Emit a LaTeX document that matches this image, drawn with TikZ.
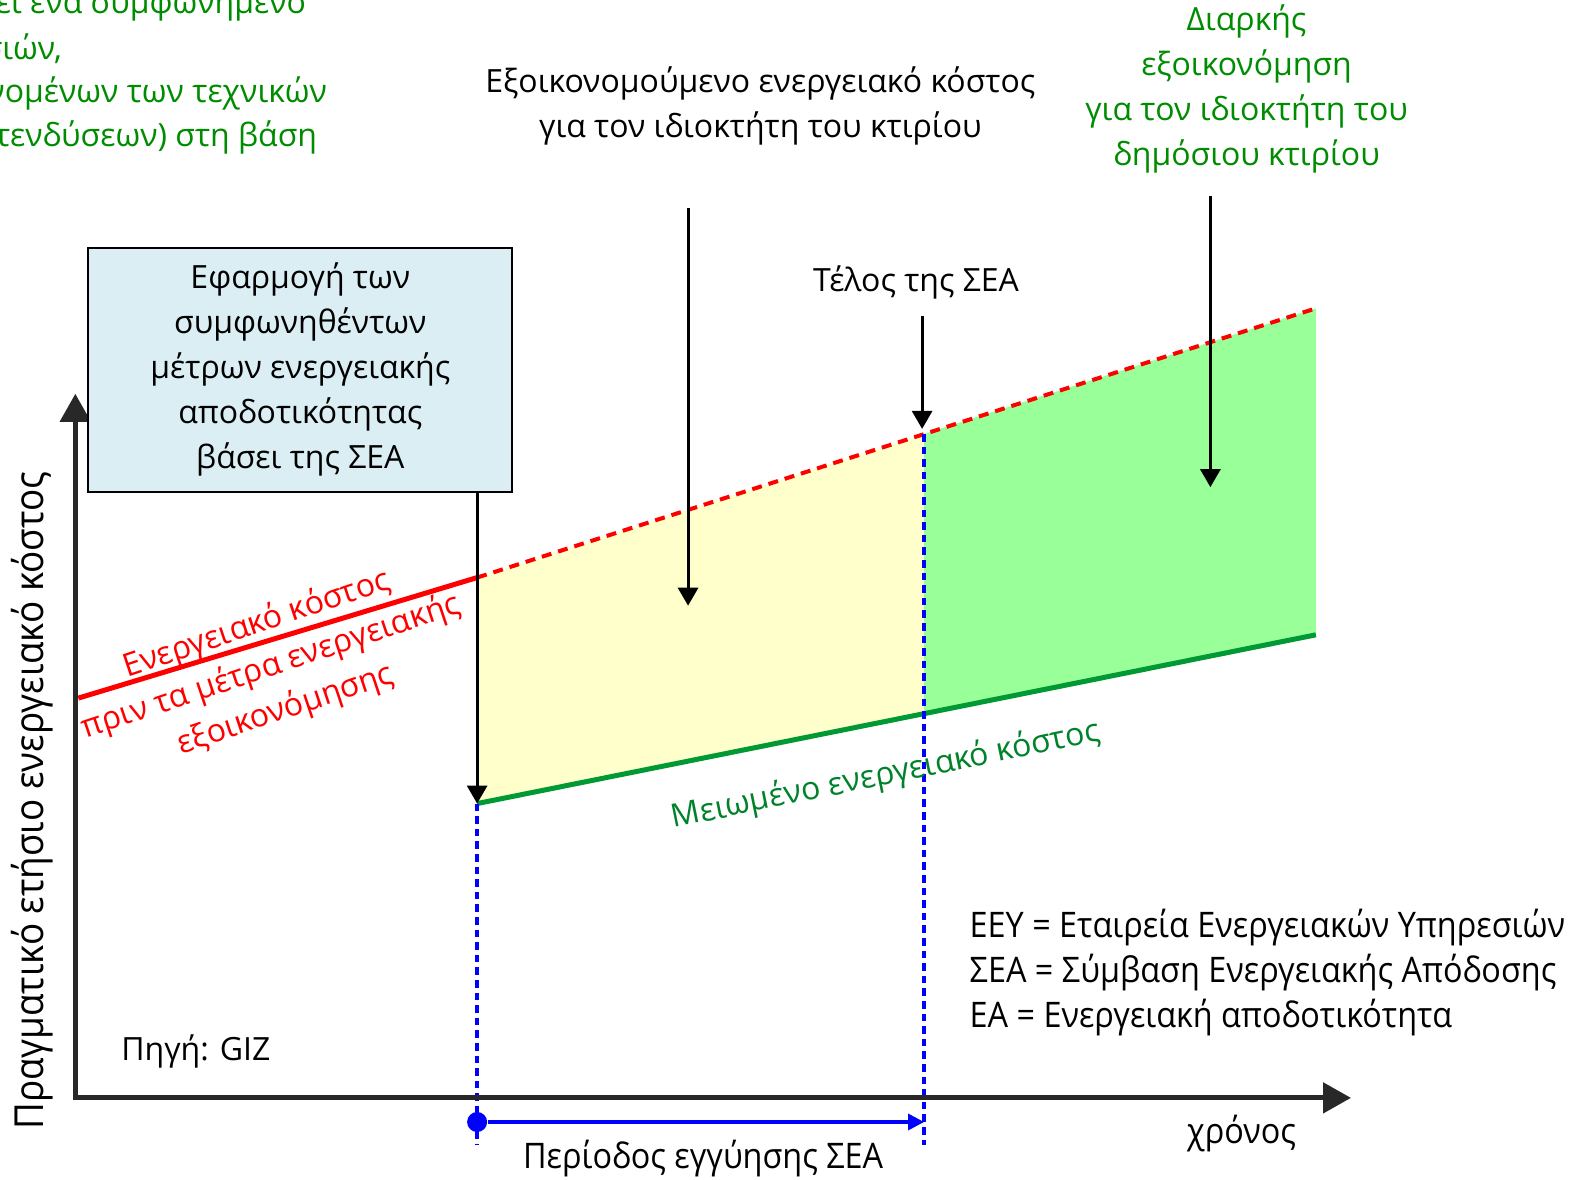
\documentclass[tikz,border=0pt]{standalone}
\usepackage{fontspec}
\setmainfont{Open Sans}
\newfontfamily\condfont[FakeStretch=0.92]{Open Sans}
\usetikzlibrary{arrows.meta}
\definecolor{boxblue}{RGB}{218,238,243}
\definecolor{fillyel}{RGB}{255,255,204}
\definecolor{fillgrn}{RGB}{153,255,153}
\definecolor{linegrn}{RGB}{0,153,51}
\definecolor{txtgrn}{RGB}{0,140,0}
\definecolor{axisgray}{RGB}{40,40,40}
\begin{document}
\begin{tikzpicture}[x=0.50223pt,y=-0.50223pt,
  every node/.style={font=\fontsize{16}{22.5}\selectfont, inner sep=0pt},
  blk/.style={black, line width=1.5pt, -{Triangle[length=9pt,width=10pt]}},
  bluedash/.style={blue, line width=1.7pt, dash pattern=on 3.8pt off 2.5pt},
  axisline/.style={axisgray, line width=2.5pt, line join=miter},
  cond/.style={font=\condfont\fontsize{17.6}{22.6}\selectfont}]
\useasboundingbox (0,0) rectangle (1568,1174);
% key points
\coordinate (r0) at (78,695);
\coordinate (r1) at (475,575);
\coordinate (rm) at (920,432);
\coordinate (r2) at (1310,307);
\coordinate (g1) at (475,800);
\coordinate (gm) at (920,710);
\coordinate (g2) at (1310,632);
\coordinate (b1) at (475,1140);
\coordinate (b2) at (920,1140);
\coordinate (O) at (75,1093);
\coordinate (ytop) at (75,392);
\coordinate (xend) at (1345,1093);
% fills
\fill[fillyel] (r1) -- (rm) -- (gm) -- (g1) -- cycle;
\fill[fillgrn] (rm) -- (r2) -- (g2) -- (gm) -- cycle;
% cost lines
\draw[red, line width=2.5pt] (r0) -- (r1);
\draw[red, line width=2pt, dash pattern=on 5pt off 3.5pt] (r1) -- (r2);
\draw[linegrn, line width=2.5pt] (g1) -- (g2);
% blue dashed verticals
\draw[bluedash] (g1) -- (b1);
\draw[bluedash] (rm) -- (b2);
% axes
\draw[axisline, {Triangle[length=14pt,width=15pt]}-{Triangle[length=14pt,width=15pt]}] (xend) -- (O) -- (ytop);
% guarantee period arrow
\node[circle, fill=blue, minimum size=10pt] (dot) at (475,1117) {};
\coordinate (bend) at (920,1117);
\draw[blue, line width=1.6pt, -{Triangle[length=8pt,width=8pt]}] (dot) -- (bend);
\node[cond] (period) at (700,1153) {Περίοδος εγγύησης ΣΕΑ};
\node[cond] (time) at (1236,1128) {χρόνος};
% y label
\node[font=\condfont\fontsize{20}{24}\selectfont, rotate=90] (ylab) at (32,797) {Πραγματικό ετήσιο ενεργειακό κόστος};
% box
\node[draw, fill=boxblue, line width=1pt, minimum width=212pt, minimum height=122pt, align=center] (box) at (299,368)
  {Εφαρμογή των\\συμφωνηθέντων\\μέτρων ενεργειακής\\αποδοτικότητας\\βάσει της ΣΕΑ};
\draw[blk] (box.south -| g1) -- (g1);
% saved cost label
\node[align=center] (sav) at (757,105) {Εξοικονομούμενο ενεργειακό κόστος\\για τον ιδιοκτήτη του κτιρίου};
\coordinate (sa1) at (685,207);
\coordinate (sa2) at (685,603);
\draw[blk] (sa1) -- (sa2);
% end of EPC
\node (endepc) at (912,281) {Τέλος της ΣΕΑ};
\coordinate (ea1) at (918,315);
\coordinate (ea2) at (918,427);
\draw[blk] (ea1) -- (ea2);
% lasting savings
\node[align=center, text=txtgrn] (last) at (1241,89) {Διαρκής\\εξοικονόμηση\\για τον ιδιοκτήτη του\\δημόσιου κτιρίου};
\coordinate (la1) at (1205,195);
\coordinate (la2) at (1205,485);
\draw[blk] (la1) -- (la2);
% red label
\node[align=center, text=red, rotate=18.5] (redlab) at (270,664) {Ενεργειακό κόστος\\πριν τα μέτρα ενεργειακής\\εξοικονόμησης};
% green label
\node[text=linegrn!85!black, rotate=11.5] (grnlab) at (882,772) {Μειωμένο ενεργειακό κόστος};
% legend
\node[cond, align=left, anchor=west] (legend) at (965,968) {ΕΕΥ = Εταιρεία Ενεργειακών Υπηρεσιών\\ΣΕΑ = Σύμβαση Ενεργειακής Απόδοσης\\ΕΑ = Ενεργειακή αποδοτικότητα};
\node (src) at (195,1047) {Πηγή: GIZ};
% cut-off top-left text
\node[text=txtgrn, anchor=east] (tl1) at (305,4) {ει ένα συμφωνημένο};
\node[text=txtgrn, anchor=east] (tl2) at (62,48) {σιών,};
\node[text=txtgrn, anchor=east] (tl3) at (326,93) {νομένων των τεχνικών};
\node[text=txtgrn, anchor=east] (tl4) at (316,137) {τενδύσεων) στη βάση};
\end{tikzpicture}
\end{document}
